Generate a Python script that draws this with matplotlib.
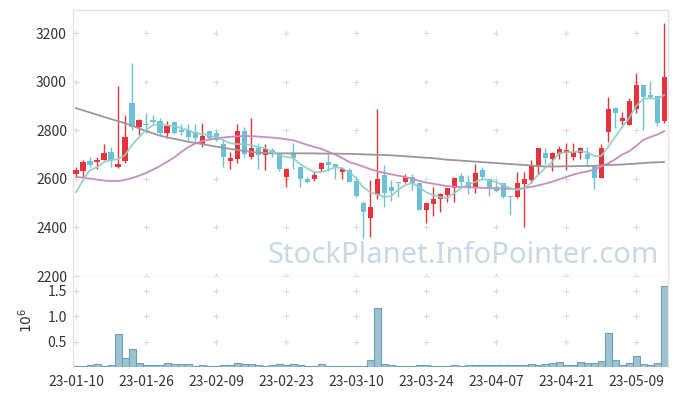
import numpy as np
import pandas as pd
import matplotlib
matplotlib.use('Agg')
import matplotlib.pyplot as plt

plt.rcParams['font.family'] = ['Noto Sans CJK KR', 'DejaVu Sans']

# trading days (KRX holidays removed)
holidays = ['2023-01-23', '2023-01-24', '2023-03-01', '2023-05-01', '2023-05-05']
dates = pd.bdate_range('2023-01-10', '2023-05-15')
dates = dates[~dates.isin(pd.to_datetime(holidays))]

opens = [2620, 2632, 2673, 2669, 2677, 2710, 2648, 2673, 2912, 2813,
         2827, 2842, 2838, 2788, 2834, 2801, 2801, 2793, 2743, 2797,
         2788, 2743, 2673, 2681, 2797, 2690, 2727, 2698, 2718, 2702,
         2607, 2706, 2648, 2599, 2599, 2640, 2669, 2661, 2628, 2636,
         2591, 2500, 2439, 2533, 2616, 2566, 2587, 2587, 2607, 2583,
         2472, 2496, 2517, 2533, 2562, 2612, 2587, 2562, 2636, 2599,
         2566, 2583, 2529, 2525, 2579, 2595, 2648, 2706, 2681, 2702,
         2706, 2690, 2706, 2702, 2657, 2603, 2793, 2891, 2838, 2821,
         2887, 2986, 2945, 2941, 2838]
highs = [2648, 2677, 2689, 2690, 2743, 2731, 2982, 2863, 3076, 2846,
         2871, 2863, 2850, 2838, 2838, 2825, 2825, 2825, 2830, 2801,
         2801, 2760, 2710, 2825, 2813, 2850, 2747, 2745, 2727, 2702,
         2644, 2747, 2648, 2607, 2632, 2669, 2702, 2661, 2648, 2644,
         2607, 2509, 2595, 2887, 2657, 2595, 2587, 2620, 2620, 2583,
         2500, 2566, 2541, 2562, 2607, 2624, 2616, 2661, 2648, 2603,
         2595, 2583, 2529, 2628, 2628, 2677, 2727, 2727, 2710, 2735,
         2747, 2747, 2731, 2731, 2657, 2743, 2937, 2895, 2875, 2932,
         3035, 2986, 3003, 2941, 3241]
lows = [2607, 2603, 2648, 2640, 2677, 2648, 2645, 2665, 2801, 2780,
        2788, 2825, 2776, 2768, 2784, 2780, 2760, 2751, 2731, 2760,
        2756, 2648, 2640, 2665, 2690, 2681, 2640, 2636, 2690, 2632,
        2566, 2640, 2566, 2583, 2591, 2628, 2632, 2599, 2599, 2587,
        2525, 2356, 2360, 2517, 2484, 2509, 2525, 2583, 2554, 2472,
        2418, 2447, 2463, 2504, 2504, 2566, 2537, 2541, 2595, 2529,
        2546, 2520, 2451, 2520, 2400, 2583, 2620, 2660, 2632, 2681,
        2636, 2677, 2681, 2653, 2558, 2603, 2751, 2809, 2821, 2821,
        2870, 2801, 2930, 2817, 2830]
closes = [2636, 2669, 2657, 2677, 2706, 2677, 2661, 2772, 2813, 2842,
          2823, 2834, 2788, 2817, 2788, 2793, 2772, 2768, 2776, 2768,
          2760, 2690, 2686, 2797, 2702, 2727, 2698, 2722, 2702, 2640,
          2640, 2686, 2599, 2587, 2616, 2665, 2657, 2648, 2640, 2587,
          2529, 2463, 2484, 2599, 2541, 2550, 2583, 2607, 2583, 2472,
          2500, 2517, 2537, 2562, 2603, 2587, 2562, 2624, 2607, 2558,
          2550, 2525, 2525, 2583, 2599, 2653, 2727, 2686, 2706, 2723,
          2718, 2710, 2727, 2681, 2603, 2727, 2887, 2871, 2850, 2920,
          2986, 2937, 2937, 2830, 3019]

ma5 = [2545, 2595, 2636, 2648, 2669, 2677, 2681, 2698, 2739, 2772,
       2801, 2821, 2825, 2821, 2817, 2809, 2801, 2788, 2784, 2780,
       2772, 2760, 2747, 2743, 2743, 2739, 2731, 2727, 2710, 2698,
       2690, 2686, 2661, 2644, 2628, 2628, 2636, 2648, 2644, 2628,
       2603, 2566, 2545, 2537, 2525, 2529, 2554, 2574, 2583, 2566,
       2545, 2533, 2525, 2521, 2541, 2562, 2578, 2587, 2599, 2595,
       2587, 2574, 2562, 2554, 2562, 2583, 2616, 2644, 2669, 2706,
       2710, 2710, 2714, 2710, 2694, 2694, 2731, 2772, 2813, 2850,
       2900, 2928, 2933, 2928, 2945]
ma20 = [2608, 2605, 2601, 2597, 2593, 2591, 2591, 2596, 2603, 2613,
        2624, 2638, 2653, 2670, 2688, 2710, 2730, 2745, 2755, 2762,
        2767, 2770, 2773, 2775, 2776, 2776, 2774, 2772, 2770, 2767,
        2763, 2759, 2750, 2740, 2732, 2724, 2712, 2700, 2686, 2670,
        2660, 2651, 2640, 2632, 2625, 2619, 2613, 2608, 2600, 2592,
        2585, 2580, 2575, 2570, 2568, 2566, 2565, 2564, 2563, 2562,
        2561, 2560, 2559, 2558, 2562, 2567, 2573, 2580, 2588, 2598,
        2608, 2617, 2625, 2630, 2638, 2650, 2664, 2680, 2700, 2713,
        2735, 2760, 2772, 2782, 2796]
ma60 = [2891, 2882, 2873, 2864, 2855, 2846, 2838, 2829, 2819, 2808,
        2797, 2787, 2778, 2771, 2765, 2759, 2753, 2748, 2743, 2738,
        2733, 2728, 2723, 2719, 2715, 2711, 2708, 2706, 2705, 2705,
        2705, 2705, 2705, 2705, 2705, 2704, 2704, 2704, 2703, 2703,
        2702, 2701, 2700, 2699, 2698, 2697, 2695, 2693, 2691, 2689,
        2687, 2685, 2682, 2679, 2677, 2675, 2673, 2671, 2669, 2667,
        2665, 2663, 2661, 2659, 2657, 2655, 2653, 2651, 2651, 2651,
        2652, 2652, 2653, 2653, 2654, 2655, 2657, 2658, 2659, 2661,
        2663, 2665, 2667, 2668, 2670]

# volume in millions
volume = [0.02, 0.02, 0.035, 0.05, 0.02, 0.035, 0.65, 0.18, 0.36, 0.07,
          0.035, 0.035, 0.035, 0.085, 0.065, 0.05, 0.05, 0.02, 0.035, 0.02,
          0.02, 0.035, 0.035, 0.085, 0.05, 0.05, 0.035, 0.02, 0.035, 0.065,
          0.035, 0.05, 0.035, 0.02, 0.02, 0.05, 0.02, 0.02, 0.025, 0.015,
          0.025, 0.025, 0.145, 1.16, 0.065, 0.045, 0.02, 0.02, 0.02, 0.045,
          0.045, 0.02, 0.02, 0.02, 0.045, 0.02, 0.035, 0.035, 0.035, 0.045,
          0.045, 0.035, 0.035, 0.035, 0.045, 0.065, 0.035, 0.065, 0.085, 0.1,
          0.035, 0.035, 0.1, 0.085, 0.085, 0.125, 0.67, 0.145, 0.045, 0.085,
          0.21, 0.065, 0.045, 0.085, 1.58]

price_ticks = [2200, 2400, 2600, 2800, 3000, 3200]
vol_ticks = [0.5, 1.0, 1.5]

o = np.array(opens); h = np.array(highs); l = np.array(lows); c = np.array(closes)
x = np.arange(len(o))
up_col, down_col = '#e9333c', '#6cc1d9'
cols = np.where(c >= o, up_col, down_col)
grid_col = '#dcdcdc'
spine_col = '#e4e4e4'
text_col = '#333333'

fig = plt.figure(figsize=(6.77, 3.96), dpi=100)
ax = fig.add_axes([0.1071, 0.3005, 0.879, 0.6742])
axv = fig.add_axes([0.1071, 0.0732, 0.879, 0.2273], sharex=ax)

xt = np.arange(0, len(x), 10)

# price panel
gx, gy = np.meshgrid(xt, price_ticks)
ax.plot(gx.ravel(), gy.ravel(), '+', color=grid_col, ms=5, mew=0.8, zorder=0)
ax.text(0.656, 0.082, 'StockPlanet.InfoPointer.com', transform=ax.transAxes,
        fontsize=21, color='#c6d9e5', ha='center', va='center', zorder=1,
        family='Noto Sans')
ax.vlines(x, l, h, colors=cols, linewidth=1.0, zorder=2)
ax.bar(x, np.maximum(np.abs(c - o), 3), bottom=np.minimum(o, c), width=0.72,
       color=cols, zorder=3)
ax.plot(x, ma60, color='#999999', lw=1.3, zorder=4)
ax.plot(x, ma20, color='#c98cc3', lw=1.3, zorder=4)
ax.plot(x, ma5, color='#8dcfc4', lw=1.3, alpha=0.9, zorder=4)
ax.set_xlim(-0.5, 84.5)
ax.set_ylim(2196, 3295)
ax.set_yticks(price_ticks)
ax.tick_params(axis='both', length=0, labelsize=10, colors=text_col, pad=4)
ax.tick_params(axis='x', labelbottom=False)

# volume panel
gx, gy = np.meshgrid(xt, vol_ticks)
axv.plot(gx.ravel(), gy.ravel(), '+', color=grid_col, ms=5, mew=0.8, zorder=0)
axv.bar(x, volume, width=1.0, color='#9cc3d4', edgecolor='#6f9fb6',
        linewidth=0.8, zorder=2)
axv.set_ylim(0, 1.765)
axv.set_yticks(vol_ticks)
axv.set_yticklabels(['0.5', '1.0', '1.5'])
axv.set_xticks(xt)
axv.set_xticklabels(dates[xt].strftime('%y-%m-%d'))
axv.tick_params(axis='both', length=0, labelsize=10, colors=text_col, pad=4)
axv.tick_params(axis='x', pad=6)
axv.set_ylabel(r'$10^6$', fontsize=10, color=text_col)
axv.yaxis.set_label_coords(-0.063, 0.52)

for a in (ax, axv):
    for s in a.spines.values():
        s.set_color(spine_col)
        s.set_linewidth(1.0)
axv.spines['top'].set_visible(False)
axv.spines['bottom'].set_visible(False)

fig.savefig('out.png', dpi=100)
